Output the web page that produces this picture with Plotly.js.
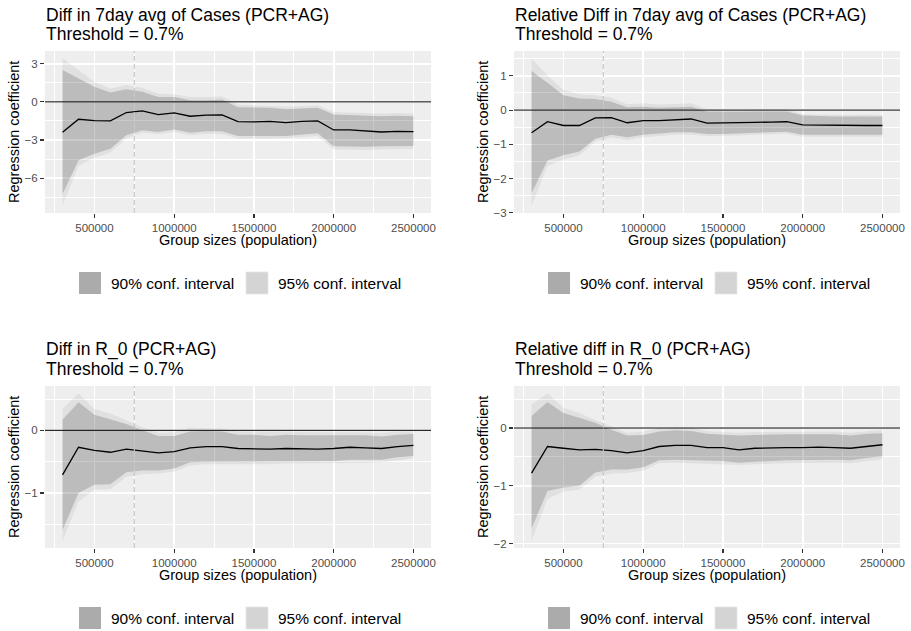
<!DOCTYPE html>
<html>
<head>
<meta charset="utf-8">
<script src="https://cdn.plot.ly/plotly-3.0.1.min.js"></script>
<style>html,body{margin:0;padding:0;background:#fff;}#chart{width:911px;height:631px;}</style>
</head>
<body>
<div id="chart"></div>
<script>
// ---------------- DATA ----------------
const groupSizes = [300000,400000,500000,600000,700000,800000,900000,1000000,1100000,1200000,1300000,1400000,1500000,1600000,1700000,1800000,1900000,2000000,2100000,2200000,2300000,2400000,2500000];

const panelTitles = ["Diff in 7day avg of Cases (PCR+AG)","Relative Diff in 7day avg of Cases (PCR+AG)","Diff in R_0 (PCR+AG)","Relative diff in R_0 (PCR+AG)"];
const subTitle = "Threshold = 0.7%";
const xAxisTitle = "Group sizes (population)";
const yAxisTitle = "Regression coefficient";
const legendLabels = ["90% conf. interval","95% conf. interval"];
const thresholdGroupSize = 750000;

// Panel 1: Diff in 7day avg of cases
const p1Est  = [-2.39,-1.37,-1.47,-1.50,-0.84,-0.71,-1.00,-0.87,-1.13,-1.05,-1.03,-1.55,-1.58,-1.53,-1.63,-1.53,-1.50,-2.21,-2.21,-2.32,-2.37,-2.32,-2.34];
const p1Up90 = [2.50,1.84,1.18,0.74,1.00,0.79,0.39,0.39,0.13,0.13,0.18,-0.42,-0.47,-0.47,-0.58,-0.53,-0.47,-1.00,-1.05,-1.10,-1.13,-1.10,-1.13];
const p1Lo90 = [-7.24,-4.60,-4.08,-3.68,-2.63,-2.24,-2.37,-2.18,-2.42,-2.32,-2.32,-2.68,-2.68,-2.68,-2.68,-2.58,-2.47,-3.50,-3.50,-3.53,-3.50,-3.47,-3.47];
const p1Up95 = [3.42,2.50,1.58,1.05,1.32,1.10,0.66,0.60,0.39,0.39,0.45,-0.21,-0.26,-0.26,-0.37,-0.32,-0.26,-0.79,-0.82,-0.89,-0.92,-0.87,-0.92];
const p1Lo95 = [-8.16,-5.05,-4.39,-4.00,-2.89,-2.42,-2.55,-2.37,-2.63,-2.53,-2.53,-2.89,-2.89,-2.89,-2.87,-2.79,-2.68,-3.74,-3.76,-3.79,-3.74,-3.71,-3.71];

// Panel 2: Relative diff in 7day avg of cases
const p2Est  = [-0.66,-0.34,-0.45,-0.45,-0.23,-0.22,-0.37,-0.31,-0.31,-0.28,-0.26,-0.38,-0.38,-0.36,-0.36,-0.35,-0.34,-0.43,-0.44,-0.45,-0.46,-0.45,-0.45];
const p2Up90 = [1.14,0.80,0.43,0.34,0.32,0.24,0.08,0.10,0.07,0.08,0.10,-0.04,-0.05,-0.05,-0.04,-0.04,-0.04,-0.16,-0.18,-0.19,-0.19,-0.19,-0.19];
const p2Lo90 = [-2.43,-1.47,-1.32,-1.21,-0.84,-0.72,-0.79,-0.72,-0.69,-0.65,-0.65,-0.70,-0.70,-0.68,-0.67,-0.65,-0.63,-0.72,-0.72,-0.72,-0.72,-0.72,-0.72];
const p2Up95 = [1.51,1.01,0.59,0.46,0.43,0.37,0.17,0.20,0.16,0.17,0.20,0.03,0.02,0.02,0.03,0.03,0.03,-0.12,-0.13,-0.14,-0.14,-0.13,-0.14];
const p2Lo95 = [-2.79,-1.63,-1.45,-1.32,-0.92,-0.80,-0.87,-0.80,-0.76,-0.72,-0.72,-0.76,-0.76,-0.74,-0.73,-0.71,-0.69,-0.78,-0.79,-0.79,-0.79,-0.78,-0.78];

// Panel 3: Diff in R_0
const p3Est  = [-0.71,-0.27,-0.32,-0.35,-0.30,-0.33,-0.36,-0.34,-0.28,-0.26,-0.26,-0.29,-0.30,-0.30,-0.29,-0.30,-0.30,-0.29,-0.27,-0.28,-0.29,-0.26,-0.24];
const p3Up90 = [0.17,0.45,0.25,0.18,0.10,0.00,-0.09,-0.09,-0.02,-0.01,-0.02,-0.07,-0.07,-0.09,-0.07,-0.08,-0.08,-0.08,-0.07,-0.08,-0.10,-0.07,-0.06];
const p3Lo90 = [-1.59,-1.00,-0.87,-0.86,-0.67,-0.64,-0.64,-0.61,-0.51,-0.50,-0.50,-0.50,-0.50,-0.50,-0.49,-0.49,-0.49,-0.49,-0.47,-0.47,-0.47,-0.43,-0.41];
const p3Up95 = [0.34,0.59,0.34,0.27,0.16,0.05,-0.04,-0.03,0.04,0.04,0.03,-0.02,-0.02,-0.03,-0.02,-0.03,-0.03,-0.03,-0.02,-0.03,-0.04,-0.02,-0.02];
const p3Lo95 = [-1.76,-1.14,-0.95,-0.94,-0.74,-0.70,-0.69,-0.66,-0.56,-0.54,-0.54,-0.54,-0.54,-0.54,-0.53,-0.53,-0.53,-0.53,-0.52,-0.52,-0.51,-0.48,-0.45];

// Panel 4: Relative diff in R_0
const p4Est  = [-0.78,-0.32,-0.35,-0.38,-0.37,-0.39,-0.43,-0.39,-0.32,-0.30,-0.30,-0.34,-0.34,-0.38,-0.35,-0.34,-0.34,-0.34,-0.33,-0.34,-0.35,-0.32,-0.29];
const p4Up90 = [0.21,0.45,0.26,0.17,0.09,-0.03,-0.13,-0.12,-0.06,-0.04,-0.05,-0.10,-0.11,-0.13,-0.12,-0.11,-0.11,-0.11,-0.11,-0.11,-0.13,-0.10,-0.09];
const p4Lo90 = [-1.74,-1.09,-1.03,-1.00,-0.77,-0.72,-0.72,-0.68,-0.56,-0.55,-0.55,-0.56,-0.57,-0.60,-0.58,-0.57,-0.56,-0.56,-0.55,-0.55,-0.56,-0.52,-0.49];
const p4Up95 = [0.41,0.60,0.35,0.26,0.14,0.03,-0.08,-0.06,0.00,0.01,0.01,-0.05,-0.06,-0.08,-0.07,-0.07,-0.07,-0.07,-0.06,-0.06,-0.08,-0.05,-0.03];
const p4Lo95 = [-1.95,-1.23,-1.10,-1.07,-0.84,-0.79,-0.78,-0.74,-0.61,-0.60,-0.60,-0.62,-0.63,-0.64,-0.63,-0.62,-0.61,-0.61,-0.60,-0.60,-0.61,-0.57,-0.54];

const yTickStep = [3, 1, 1, 1];

// ---------------- STYLE / LAYOUT ----------------
const FONT = 'Liberation Sans, Arial, Helvetica, sans-serif';
const W = 911, H = 631;
const COL_BG = '#EEEEEE';
const COL_95 = 'rgba(0,0,0,0.055)', COL_90 = 'rgba(0,0,0,0.16)';
const KEY_90 = '#ABABAB', KEY_95 = '#D4D4D4';
const px = v => v / W;
const py = v => 1 - v / H;

const panels = [
  {est:p1Est, up90:p1Up90, lo90:p1Lo90, up95:p1Up95, lo95:p1Lo95},
  {est:p2Est, up90:p2Up90, lo90:p2Lo90, up95:p2Up95, lo95:p2Lo95},
  {est:p3Est, up90:p3Up90, lo90:p3Lo90, up95:p3Up95, lo95:p3Lo95},
  {est:p4Est, up90:p4Up90, lo90:p4Lo90, up95:p4Up95, lo95:p4Lo95}
];

// pixel geometry of each panel (left, right, top, bottom)
const boxes = [
  {l:45, r:431, t:51, b:213},
  {l:514, r:900, t:51, b:213},
  {l:45, r:431, t:386, b:548},
  {l:514, r:900, t:386, b:548}
];

function expand(lo, hi) { const d = (hi - lo) * 0.05; return [lo - d, hi + d]; }

const traces = [];
const layout = {
  width: W, height: H,
  margin: {l:0, r:0, t:0, b:0, pad:0},
  paper_bgcolor: '#FFFFFF',
  plot_bgcolor: COL_BG,
  showlegend: false,
  font: {family: FONT, color: '#000'},
  shapes: [],
  annotations: []
};

const xRange = expand(Math.min(...groupSizes), Math.max(...groupSizes));
const revX = groupSizes.slice().reverse();

panels.forEach((p, i) => {
  const n = i === 0 ? '' : String(i + 1);
  const xa = 'x' + n, ya = 'y' + n;
  const bx = boxes[i];

  traces.push({
    type:'scatter', mode:'lines', x: groupSizes.concat(revX),
    y: p.up95.concat(p.lo95.slice().reverse()),
    fill:'toself', fillcolor: COL_95, line:{width:0, color:'rgba(0,0,0,0)'},
    xaxis: xa, yaxis: ya, hoverinfo:'skip', name: legendLabels[1]
  });
  traces.push({
    type:'scatter', mode:'lines', x: groupSizes.concat(revX),
    y: p.up90.concat(p.lo90.slice().reverse()),
    fill:'toself', fillcolor: COL_90, line:{width:0, color:'rgba(0,0,0,0)'},
    xaxis: xa, yaxis: ya, hoverinfo:'skip', name: legendLabels[0]
  });
  traces.push({
    type:'scatter', mode:'lines', x: groupSizes, y: p.est,
    line:{color:'#000', width:1.3}, xaxis: xa, yaxis: ya, name:'estimate'
  });

  const yRange = expand(Math.min(...p.lo95), Math.max(...p.up95));
  const axCommon = {
    showline:false, zeroline:false, showgrid:true, ticks:'outside', ticklen:4, tickwidth:1.1, tickcolor:'#333333',
    gridcolor:'#FFFFFF', gridwidth:1.6,
    tickfont:{family:FONT, size:11.5, color:'#4D4D4D'}, fixedrange:true
  };
  layout['xaxis' + n] = Object.assign({}, axCommon, {
    domain:[px(bx.l), px(bx.r)], range:xRange, anchor: ya,
    tick0:0, dtick:500000, tickformat:'d',
    minor:{dtick:250000, tick0:0, showgrid:true, gridcolor:'#FFFFFF', gridwidth:1.0}
  });
  layout['yaxis' + n] = Object.assign({}, axCommon, {
    domain:[py(bx.b), py(bx.t)], range:yRange, anchor: xa,
    tick0:0, dtick:yTickStep[i],
    minor:{dtick:yTickStep[i] / 2, tick0:0, showgrid:true, gridcolor:'#FFFFFF', gridwidth:1.0}
  });

  // zero reference line
  layout.shapes.push({type:'line', xref: xa + ' domain', x0:0, x1:1, yref: ya, y0:0, y1:0,
    line:{color:'#000', width:1}, layer:'above'});
  // threshold group size dashed line
  layout.shapes.push({type:'line', xref: xa, x0:thresholdGroupSize, x1:thresholdGroupSize,
    yref: ya + ' domain', y0:0, y1:1, line:{color:'#C4C4C4', width:1.1, dash:'5px,3px'}, layer:'above'});

  // titles
  layout.annotations.push({xref:'paper', yref:'paper', x:px(bx.l - 1), y:py(bx.t - 36.5), xanchor:'left', yanchor:'middle',
    text: panelTitles[i], showarrow:false, font:{family:FONT, size:17.5, color:'#000'}});
  layout.annotations.push({xref:'paper', yref:'paper', x:px(bx.l - 1), y:py(bx.t - 17), xanchor:'left', yanchor:'middle',
    text: subTitle, showarrow:false, font:{family:FONT, size:17.5, color:'#000'}});
  // axis titles
  layout.annotations.push({xref:'paper', yref:'paper', x:px((bx.l + bx.r) / 2), y:py(bx.b + 27), xanchor:'center', yanchor:'middle',
    text: xAxisTitle, showarrow:false, font:{family:FONT, size:14.5, color:'#000'}});
  layout.annotations.push({xref:'paper', yref:'paper', x:px(bx.l - 31), y:py((bx.t + bx.b) / 2), xanchor:'center', yanchor:'middle',
    text: yAxisTitle, textangle:-90, showarrow:false, font:{family:FONT, size:14.5, color:'#000'}});

  // legend keys
  const ky = bx.b + 59, kx = bx.l + 34;
  layout.shapes.push({type:'rect', xref:'paper', yref:'paper', x0:px(kx), x1:px(kx + 22), y0:py(ky + 22), y1:py(ky),
    fillcolor: KEY_90, line:{width:0}});
  layout.shapes.push({type:'rect', xref:'paper', yref:'paper', x0:px(kx + 167), x1:px(kx + 189), y0:py(ky + 22), y1:py(ky),
    fillcolor: KEY_95, line:{width:0.8, color:'#E6E6E6'}});
  layout.annotations.push({xref:'paper', yref:'paper', x:px(kx + 30), y:py(ky + 11), xanchor:'left', yanchor:'middle',
    text: legendLabels[0], showarrow:false, font:{family:FONT, size:15.5, color:'#000'}});
  layout.annotations.push({xref:'paper', yref:'paper', x:px(kx + 197), y:py(ky + 11), xanchor:'left', yanchor:'middle',
    text: legendLabels[1], showarrow:false, font:{family:FONT, size:15.5, color:'#000'}});
});

Plotly.newPlot('chart', traces, layout, {staticPlot:true, displayModeBar:false});
</script>
</body>
</html>
